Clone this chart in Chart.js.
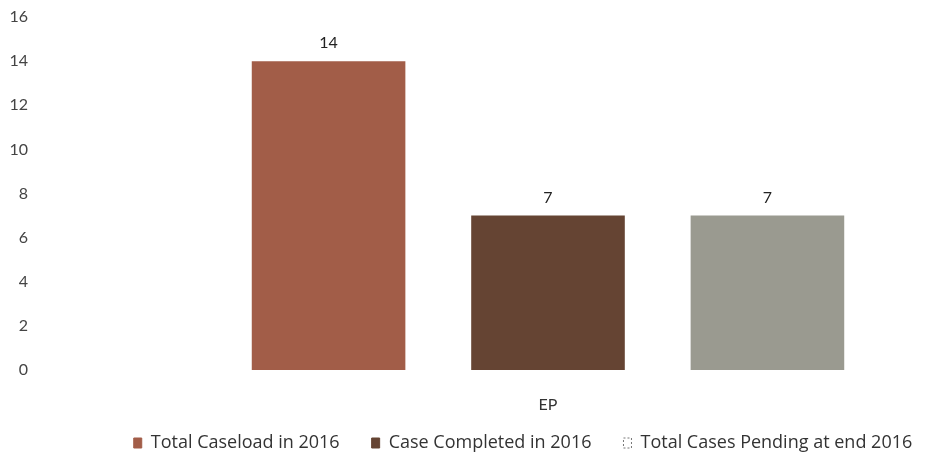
<!DOCTYPE html>
<html>
<head>
<meta charset="utf-8">
<script src="https://cdn.jsdelivr.net/npm/chart.js@4.4.0/dist/chart.umd.min.js"></script>
<style>
  * { margin: 0; padding: 0; }
  body { background: #fff; width: 946px; height: 461px; overflow: hidden; }
  #wrap { width: 946px; height: 461px; }
</style>
</head>
<body>
<div id="wrap"><canvas id="c"></canvas></div>
<script>
const categories = ['EP'];
const seriesNames = ['Total Caseload in 2016', 'Case Completed in 2016', 'Total Cases Pending at end 2016'];
const caseload = [14];
const completed = [7];
const pending = [7];

const colors = ['#a25d48', '#654433', '#9a9a90'];
const font = "Lato, 'Open Sans', sans-serif";
const legendFont = "'Open Sans', sans-serif";
const leftPad = 100;

// widest y tick label, so the mirrored labels line up on their right edge
const mctx = document.createElement('canvas').getContext('2d');
mctx.font = '16px ' + font;
const widest = Math.max(...[0, 2, 4, 6, 8, 10, 12, 14, 16].map(v => mctx.measureText(String(v)).width));

// numbers above the bars
const valueLabels = {
  id: 'valueLabels',
  afterDatasetsDraw(chart) {
    const ctx = chart.ctx;
    ctx.save();
    ctx.font = '16px ' + font;
    ctx.fillStyle = '#222';
    ctx.textAlign = 'center';
    ctx.textBaseline = 'bottom';
    chart.data.datasets.forEach((ds, i) => {
      chart.getDatasetMeta(i).data.forEach((bar, j) => {
        ctx.fillText(ds.data[j], bar.x, bar.y - 10);
      });
    });
    ctx.restore();
  }
};

new Chart(document.getElementById('c'), {
  type: 'bar',
  data: {
    labels: categories,
    datasets: [
      { label: seriesNames[0], data: caseload, backgroundColor: colors[0] },
      { label: seriesNames[1], data: completed, backgroundColor: colors[1] },
      { label: seriesNames[2], data: pending, backgroundColor: colors[2] }
    ]
  },
  options: {
    responsive: true,
    maintainAspectRatio: false,
    animation: false,
    layout: { padding: { top: 17, right: 0, bottom: 0, left: leftPad } },
    datasets: { bar: { categoryPercentage: 0.827, barPercentage: 0.70 } },
    plugins: {
      legend: {
        position: 'bottom',
        maxHeight: 59,
        labels: {
          font: { family: legendFont, size: 18 },
          color: '#333',
          boxWidth: 8,
          boxHeight: 10,
          padding: 32,
          generateLabels(chart) {
            return chart.data.datasets.map((ds, i) => ({
              text: ds.label,
              fillStyle: i === 2 ? '#fff' : ds.backgroundColor,
              strokeStyle: i === 2 ? '#777' : ds.backgroundColor,
              lineWidth: 1,
              lineDash: i === 2 ? [2, 2] : [],
              datasetIndex: i,
              fontColor: '#333'
            }));
          }
        }
      },
      tooltip: { enabled: false }
    },
    scales: {
      x: {
        afterFit(scale) { scale.height = 32; },
        grid: { display: false, drawTicks: false },
        border: { display: false },
        ticks: { mirror: true, font: { family: font, size: 16 }, color: '#333', padding: -44 }
      },
      y: {
        min: 0,
        max: 16,
        afterFit(scale) {
          scale.width = 150 - leftPad;
          scale.paddingTop = 0;
          scale.paddingBottom = 0;
        },
        grid: { display: false, drawTicks: false },
        border: { display: false },
        ticks: { mirror: true, crossAlign: 'far', stepSize: 2, font: { family: font, size: 16 }, color: '#444', padding: 28 - 150 - widest }
      }
    }
  },
  plugins: [valueLabels]
});
</script>
</body>
</html>
